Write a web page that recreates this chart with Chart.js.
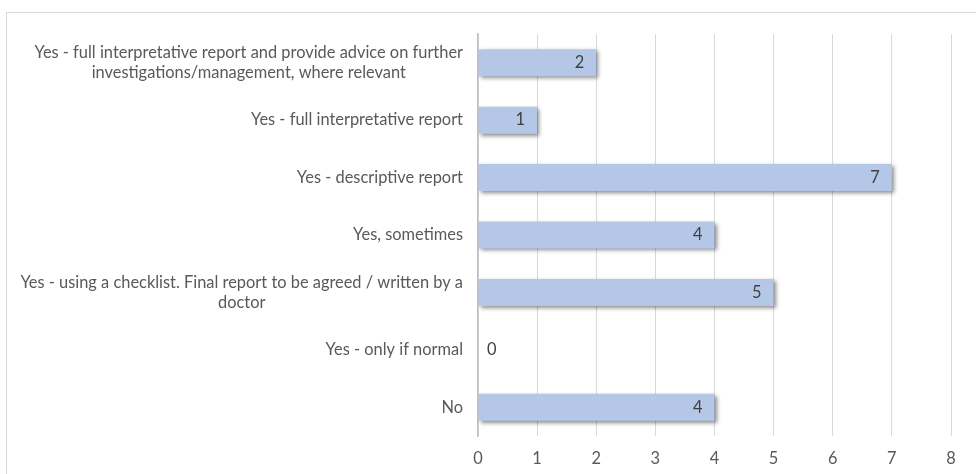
<!DOCTYPE HTML>
<html>
<head>
  <title>Reporting</title>
  <meta content="width=device-width, initial-scale=1.0" name="viewport">
  <script src="https://cdn.jsdelivr.net/npm/chart.js"></script>
  <style>
    html, body { margin: 0; padding: 0; background: #fff; overflow: hidden; }
    .chart-container { position: relative; width: 976px; height: 474px; }
  </style>
</head>
<body>
  <div class="chart-container">
    <canvas id="reportChart"></canvas>
  </div>

  <script type="text/javascript">
    // answers, top to bottom; each answer split into its printed lines
    var categories = [
      ["Yes - full interpretative report and provide advice on further", "investigations/management, where relevant"],
      ["Yes - full interpretative report"],
      ["Yes - descriptive report"],
      ["Yes, sometimes"],
      ["Yes - using a checklist. Final report to be agreed / written by a", "doctor"],
      ["Yes - only if normal"],
      ["No"]
    ];
    var counts = [2, 1, 7, 4, 5, 0, 4];
    var xTicks = [0, 1, 2, 3, 4, 5, 6, 7, 8];

    var fontFamily = "Lato, 'Open Sans', sans-serif";
    var fontSize = 16.4;
    var barColor = '#B4C7E7';

    // light frame round the whole chart
    var framePlugin = {
      id: 'frame',
      beforeDraw: function (chart) {
        var ctx = chart.ctx;
        ctx.save();
        ctx.strokeStyle = '#D9D9D9';
        ctx.lineWidth = 1;
        ctx.strokeRect(6.5, 12.5, 1200, 1200);
        ctx.restore();
      }
    };

    // soft drop shadow under the bars
    var shadowPlugin = {
      id: 'barShadow',
      beforeDatasetsDraw: function (chart) {
        var ctx = chart.ctx;
        ctx.save();
        ctx.shadowColor = 'rgba(0,0,0,0.45)';
        ctx.shadowBlur = 4;
        ctx.shadowOffsetX = 2;
        ctx.shadowOffsetY = 2;
      },
      afterDatasetsDraw: function (chart) {
        chart.ctx.restore();
      }
    };

    // value at the inner end of each bar, zero sits just right of the axis
    var valuePlugin = {
      id: 'values',
      afterDatasetsDraw: function (chart) {
        var ctx = chart.ctx;
        var meta = chart.getDatasetMeta(0);
        ctx.save();
        ctx.font = fontSize + 'px ' + fontFamily;
        ctx.fillStyle = '#404040';
        ctx.textBaseline = 'middle';
        meta.data.forEach(function (bar, i) {
          var v = counts[i];
          if (v > 0) {
            ctx.textAlign = 'right';
            ctx.fillText(String(v), bar.x - 12, bar.y);
          } else {
            ctx.textAlign = 'left';
            ctx.fillText(String(v), bar.x + 9, bar.y);
          }
        });
        ctx.restore();
      }
    };

    // category labels: lines centred on each other, block right-aligned to the axis
    var catLabelPlugin = {
      id: 'catLabels',
      afterDraw: function (chart) {
        var ctx = chart.ctx;
        var yScale = chart.scales.y;
        var right = chart.chartArea.left - 15;
        var lineH = 20;
        ctx.save();
        ctx.font = fontSize + 'px ' + fontFamily;
        ctx.fillStyle = '#595959';
        ctx.textAlign = 'center';
        ctx.textBaseline = 'middle';
        categories.forEach(function (lines, i) {
          var w = 0;
          lines.forEach(function (t) { w = Math.max(w, ctx.measureText(t).width); });
          var cx = right - w / 2;
          var y0 = yScale.getPixelForValue(i) - (lines.length - 1) * lineH / 2;
          lines.forEach(function (t, k) {
            ctx.fillText(t, cx, y0 + k * lineH);
          });
        });
        ctx.restore();
      }
    };

    var ctx_report = document.getElementById('reportChart');

    var ChartReport = new Chart(ctx_report, {
      type: 'bar',
      data: {
        labels: categories.map(function (l) { return l.join(' '); }),
        datasets: [{
          data: counts,
          backgroundColor: barColor,
          borderWidth: 0,
          barPercentage: 0.47,
          categoryPercentage: 1.0
        }]
      },
      options: {
        indexAxis: 'y',
        responsive: true,
        maintainAspectRatio: false,
        animation: false,
        layout: { padding: { top: 34, right: 25, bottom: 0, left: 0 } },
        plugins: {
          legend: { display: false },
          tooltip: { enabled: false }
        },
        scales: {
          x: {
            min: 0,
            max: 8,
            afterBuildTicks: function (scale) {
              scale.ticks = xTicks.map(function (v) { return { value: v }; });
            },
            grid: { color: '#D9D9D9', lineWidth: 1, drawTicks: false },
            border: { display: false },
            ticks: {
              color: '#595959',
              padding: 13,
              font: { family: fontFamily, size: fontSize }
            },
            afterFit: function (scale) { scale.height = 38; }
          },
          y: {
            grid: { display: false, drawTicks: false },
            border: { display: true, color: '#BFBFBF', width: 1.5 },
            ticks: { display: false },
            afterFit: function (scale) { scale.width = 478; }
          }
        }
      },
      plugins: [framePlugin, shadowPlugin, valuePlugin, catLabelPlugin]
    });
  </script>
</body>
</html>
